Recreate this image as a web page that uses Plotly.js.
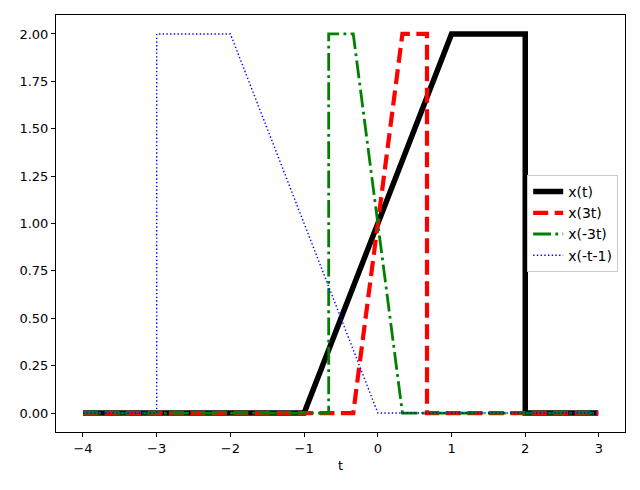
<!DOCTYPE html>
<html>
<head>
<meta charset="utf-8">
<script src="https://cdn.plot.ly/plotly-3.0.1.min.js"></script>
<style>html,body{margin:0;padding:0;background:#fff}#chart{width:640px;height:490px}</style>
</head>
<body>
<div id="chart"></div>
<script>
// x(t)
var tX = [-4, -1, 1, 2, 2.0001, 2.99];
var yX = [0, 0, 2, 2, 0, 0];
// x(3t)
var t3 = [-4, -1/3, 1/3, 2/3, 2/3 + 0.0001, 2.99];
var y3 = [0, 0, 2, 2, 0, 0];
// x(-3t)
var tm3 = [-4, -2/3 - 0.0001, -2/3, -1/3, 1/3, 2.99];
var ym3 = [0, 0, 2, 2, 0, 0];
// x(-t-1)
var tm1 = [-4, -3.0001, -3, -2, 0, 2.99];
var ym1 = [0, 0, 2, 2, 0, 0];

var names = ['x(t)', 'x(3t)', 'x(-3t)', 'x(-t-1)'];
var yTicks = [0, 0.25, 0.5, 0.75, 1, 1.25, 1.5, 1.75, 2];
var xTicks = [-4, -3, -2, -1, 0, 1, 2, 3];
var xTickText = ['\u22124', '\u22123', '\u22122', '\u22121', '0', '1', '2', '3'];

var traces = [
  {x: tX, y: yX, name: names[0], mode: 'lines', line: {color: '#000000', width: 5.5}},
  {x: t3, y: y3, name: names[1], mode: 'lines', line: {color: '#ff0000', width: 4.2, dash: '15px,6.5px'}},
  {x: tm3, y: ym3, name: names[2], mode: 'lines', line: {color: '#008000', width: 2.8, dash: '17.8px,4.4px,2.8px,4.4px'}},
  {x: tm1, y: ym1, name: names[3], mode: 'lines', line: {color: '#0000ff', width: 1.4, dash: '1.4px,2.3px'}}
];

var layout = {
  width: 640, height: 490,
  margin: {l: 56, r: 15, t: 15, b: 58},
  paper_bgcolor: '#fff', plot_bgcolor: '#fff',
  font: {family: 'DejaVu Sans', size: 13, color: '#000'},
  showlegend: true,
  legend: {x: 0.988, xanchor: 'right', y: 0.5, yanchor: 'middle',
           bordercolor: '#cccccc', borderwidth: 1, bgcolor: 'rgba(255,255,255,0.8)',
           font: {size: 14}, tracegroupgap: 0, itemwidth: 30},
  xaxis: {range: [-4.366, 3.353], tickvals: xTicks, ticktext: xTickText,
          showgrid: false, zeroline: false, showline: true, mirror: true,
          linecolor: '#000', linewidth: 1, ticks: 'outside', ticklen: 4, tickcolor: '#000',
          title: {text: 't', font: {size: 13}, standoff: 6}},
  yaxis: {range: [-0.1, 2.1], tickvals: yTicks, tickformat: '.2f',
          showgrid: false, zeroline: false, showline: true, mirror: true,
          linecolor: '#000', linewidth: 1, ticks: 'outside', ticklen: 4, tickcolor: '#000'}
};

Plotly.newPlot('chart', traces, layout, {displayModeBar: false, staticPlot: true});
</script>
</body>
</html>
